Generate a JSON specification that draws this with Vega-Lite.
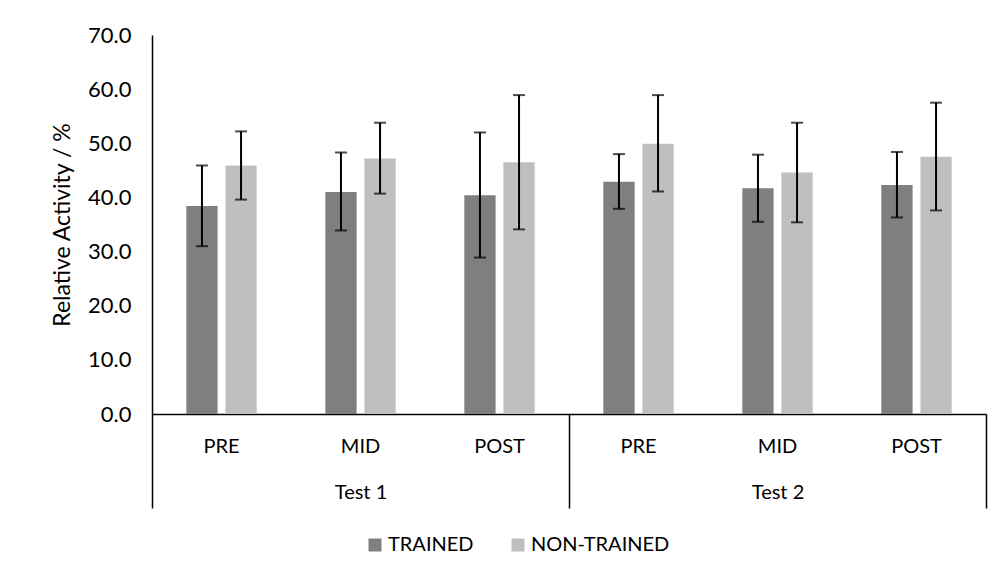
{
  "$schema": "https://vega.github.io/schema/vega-lite/v6.json",
  "width": 834,
  "height": 379,
  "autosize": {"type": "none"},
  "padding": {"left": 152, "top": 35, "right": 22, "bottom": 167},
  "background": "white",
  "config": {
    "view": {"stroke": null},
    "font": "Lato",
    "axis": {"labelFont": "Lato", "titleFont": "Lato", "labelColor": "#000", "titleColor": "#000"},
    "legend": {"labelFont": "Lato", "labelColor": "#000"}
  },
  "data": {
    "values": [
      {"cat": "Test 1|PRE", "test": "Test 1", "group": "TRAINED", "value": 38.4, "lo": 31.0, "hi": 45.9},
      {"cat": "Test 1|PRE", "test": "Test 1", "group": "NON-TRAINED", "value": 45.9, "lo": 39.6, "hi": 52.2},
      {"cat": "Test 1|MID", "test": "Test 1", "group": "TRAINED", "value": 41.0, "lo": 33.9, "hi": 48.3},
      {"cat": "Test 1|MID", "test": "Test 1", "group": "NON-TRAINED", "value": 47.2, "lo": 40.7, "hi": 53.8},
      {"cat": "Test 1|POST", "test": "Test 1", "group": "TRAINED", "value": 40.4, "lo": 28.9, "hi": 52.0},
      {"cat": "Test 1|POST", "test": "Test 1", "group": "NON-TRAINED", "value": 46.5, "lo": 34.1, "hi": 58.9},
      {"cat": "Test 2|PRE", "test": "Test 2", "group": "TRAINED", "value": 42.9, "lo": 37.9, "hi": 48.0},
      {"cat": "Test 2|PRE", "test": "Test 2", "group": "NON-TRAINED", "value": 49.9, "lo": 41.1, "hi": 58.9},
      {"cat": "Test 2|MID", "test": "Test 2", "group": "TRAINED", "value": 41.7, "lo": 35.5, "hi": 47.9},
      {"cat": "Test 2|MID", "test": "Test 2", "group": "NON-TRAINED", "value": 44.6, "lo": 35.4, "hi": 53.8},
      {"cat": "Test 2|POST", "test": "Test 2", "group": "TRAINED", "value": 42.3, "lo": 36.3, "hi": 48.4},
      {"cat": "Test 2|POST", "test": "Test 2", "group": "NON-TRAINED", "value": 47.5, "lo": 37.6, "hi": 57.5}
    ]
  },
  "layer": [
    {
      "encoding": {
        "x": {
          "field": "cat", "type": "nominal", "sort": null,
          "scale": {"paddingInner": 0.494, "paddingOuter": 0.247},
          "axis": {
            "title": null, "labelExpr": "split(datum.label, '|')[1]", "labelAngle": 0,
            "ticks": false, "domainColor": "#000", "domainWidth": 1.5,
            "labelFontSize": 20, "labelPadding": 22
          }
        },
        "xOffset": {
          "field": "group", "type": "nominal", "sort": ["TRAINED", "NON-TRAINED"],
          "scale": {"paddingInner": 0.2, "paddingOuter": 0}
        }
      },
      "layer": [
        {
          "mark": {"type": "bar"},
          "encoding": {
            "y": {
              "field": "value", "type": "quantitative",
              "scale": {"domain": [0, 70], "nice": false},
              "axis": {
                "title": "Relative Activity / %", "titleFontSize": 23, "titleFontWeight": "normal",
                "labelFontSize": 22, "format": ".1f", "values": [0, 10, 20, 30, 40, 50, 60, 70],
                "grid": false, "ticks": false, "domainColor": "#000", "domainWidth": 1.5,
                "labelPadding": 21, "titlePadding": 13
              }
            },
            "color": {
              "field": "group", "type": "nominal",
              "scale": {"domain": ["TRAINED", "NON-TRAINED"], "range": ["#7f7f7f", "#bfbfbf"]},
              "legend": {
                "title": null, "orient": "none", "direction": "horizontal",
                "legendX": 213, "legendY": 500, "symbolType": "square", "symbolSize": 169,
                "symbolStrokeWidth": 0, "labelFontSize": 20, "labelOffset": 3, "columnPadding": 34
              }
            }
          }
        },
        {
          "mark": {"type": "rule", "color": "#000", "strokeWidth": 2},
          "encoding": {
            "y": {"field": "lo", "type": "quantitative"},
            "y2": {"field": "hi"}
          }
        },
        {
          "mark": {"type": "tick", "color": "#000", "size": 12, "thickness": 2},
          "encoding": {"y": {"field": "hi", "type": "quantitative"}}
        },
        {
          "mark": {"type": "tick", "color": "#000", "size": 12, "thickness": 2},
          "encoding": {"y": {"field": "lo", "type": "quantitative"}}
        }
      ]
    },
    {
      "mark": {"type": "rule", "opacity": 0},
      "encoding": {
        "x": {
          "field": "test", "type": "nominal",
          "scale": {"paddingInner": 0, "paddingOuter": 0},
          "axis": {
            "orient": "bottom", "title": null, "domain": false, "tickBand": "extent",
            "tickSize": 94, "tickColor": "#000", "tickWidth": 1.5, "labelAngle": 0,
            "labelFontSize": 20, "labelPadding": -26
          }
        }
      }
    }
  ],
  "resolve": {"scale": {"x": "independent"}, "axis": {"x": "independent"}}
}
